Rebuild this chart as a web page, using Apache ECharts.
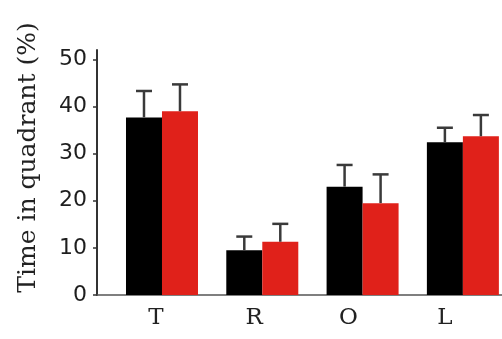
<!DOCTYPE html>
<html><head><meta charset="utf-8">
<script src="https://cdn.jsdelivr.net/npm/echarts@6/dist/echarts.min.js"></script>
<style>html,body{margin:0;padding:0;background:#fff}#c{width:502px;height:339px}</style>
</head><body><div id="c"></div>
<script>
const categories = ['T', 'R', 'O', 'L'];
const blackValues = [37.7, 9.5, 23.0, 32.4];
const blackErrors = [5.6, 2.9, 4.6, 3.1];
const redValues = [39.0, 11.3, 19.5, 33.7];
const redErrors = [5.7, 3.8, 6.1, 4.5];
const yTicks = [0, 10, 20, 30, 40, 50];
const labelShift = [-0.06, -0.08, -0.14, -0.18];

const BAR_W = 36;
const chart = echarts.init(document.getElementById('c'), null, {renderer: 'canvas'});
const pos = categories.map((c, i) => i + 1);
const blackData = pos.map((x, i) => [x, blackValues[i]]);
const redData = pos.map((x, i) => [x, redValues[i]]);
const errData = [];
pos.forEach((x, i) => {
  errData.push([x, blackValues[i], blackErrors[i], -1]);
  errData.push([x, redValues[i], redErrors[i], 1]);
});

chart.setOption({
  animation: false,
  grid: {left: 97, right: 0, top: 50, bottom: 44, containLabel: false},
  xAxis: {
    type: 'value', min: 0.352, max: 4.39,
    splitLine: {show: false},
    axisLine: {show: true, onZero: false, lineStyle: {color: '#555', width: 1.5}},
    axisTick: {show: false},
    axisLabel: {
      customValues: pos.map((x, i) => x + labelShift[i]),
      formatter: v => categories[Math.round(v) - 1] || '',
      fontFamily: 'DejaVu Serif', fontSize: 23, color: '#222', margin: 12
    }
  },
  yAxis: {
    type: 'value', min: 0, max: 52, interval: 10,
    name: 'Time in quadrant (%)', nameLocation: 'middle', nameGap: 56,
    nameTextStyle: {fontFamily: 'DejaVu Serif', fontSize: 25, color: '#222', padding: [0, 0, 0, 30]},
    splitLine: {show: false},
    axisLine: {show: true, lineStyle: {color: '#333', width: 2}},
    axisTick: {show: true, length: 4, customValues: yTicks, lineStyle: {color: '#333', width: 1.5}},
    axisLabel: {customValues: yTicks, fontFamily: 'DejaVu Sans', fontSize: 22, color: '#1e1e1e', margin: 10}
  },
  series: [
    {type: 'bar', data: blackData, barWidth: BAR_W, barGap: '0%', itemStyle: {color: '#000'}, z: 2},
    {type: 'bar', data: redData, barWidth: BAR_W, barGap: '0%', itemStyle: {color: '#e0211a'}, z: 2},
    {
      type: 'custom', data: errData, z: 3,
      encode: {x: 0, y: 1},
      renderItem: (params, api) => {
        const x = api.value(0), v = api.value(1), e = api.value(2), side = api.value(3);
        const base = api.coord([x, v]);
        const top = api.coord([x, v + e]);
        const cx = base[0] + side * BAR_W / 2;
        const half = 8;
        const st = {stroke: '#3a3a3a', lineWidth: 2.5};
        return {type: 'group', children: [
          {type: 'line', shape: {x1: cx, y1: base[1], x2: cx, y2: top[1]}, style: st},
          {type: 'line', shape: {x1: cx - half, y1: top[1], x2: cx + half, y2: top[1]}, style: st}
        ]};
      }
    }
  ]
});
</script></body></html>
